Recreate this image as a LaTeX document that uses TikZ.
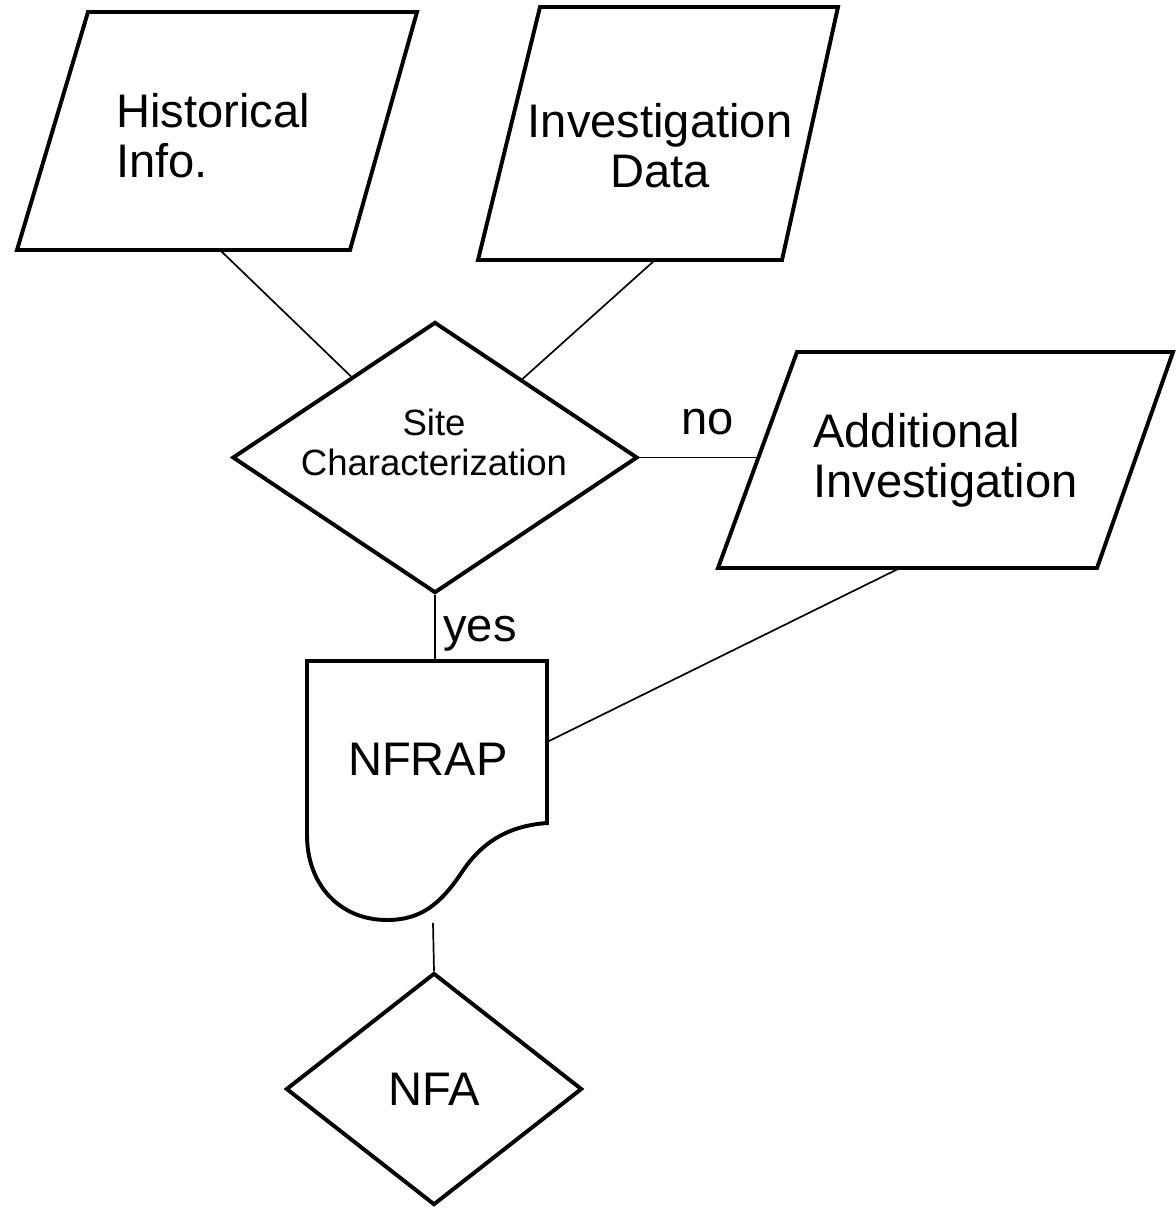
\documentclass[tikz,border=0pt]{standalone}
\usepackage{fontspec}
\setmainfont{Liberation Sans}
\usetikzlibrary{shapes.geometric}

\begin{document}
\begin{tikzpicture}[
      x=0.025cm, y=-0.025cm,
      font=\fontsize{33.5}{35.5}\selectfont,
      % Reusable styles
      inbox/.style={draw, line width=2.8pt, line join=miter},
      decide/.style={
        diamond,
        draw,
        line width=2.8pt,
        inner sep=0pt
      },
      txt/.style={inner sep=0pt},
      small/.style={font=\fontsize{26}{28.5}\selectfont},
      link/.style={line width=1.2pt}
    ]
    \useasboundingbox (0,0) rectangle (1176,1210);

    % Outlines
    \draw[inbox] (88,12) -- (417,12) -- (350,250) -- (17,250) -- cycle;
    \draw[inbox] (540,7) -- (838,7) -- (782,260) -- (478,260) -- cycle;
    \draw[inbox] (797,352) -- (1173,352) -- (1097,568) -- (718,568) -- cycle;
    \draw[inbox] (307,661) -- (547,661) -- (547,823)
      .. controls (505,826) and (480,845) .. (462,872)
      .. controls (440,905) and (420,920) .. (387,920)
      .. controls (340,920) and (307,885) .. (307,835) -- cycle;

    % Nodes
    \node[decide, minimum width=10.125cm, minimum height=6.775cm] (site) at (435,457.5) {};
    \node[decide, minimum width=7.4cm, minimum height=5.8cm] (nfa) at (434,1089) {NFA};

    \node[txt, anchor=north west, align=left] (hist) at (116,93) {Historical\\Info.};
    \node[txt, anchor=north, align=center] (inv) at (660,103) {Investigation\\Data};
    \node[txt, anchor=north west, align=left] (addl) at (813,413) {Additional\\Investigation};
    \node[txt, small, anchor=north, align=center] (sitetxt) at (434,409) {Site\\Characterization};
    \node[txt, anchor=base] (nfrap) at (428,775) {NFRAP};
    \node[txt, anchor=base west] (no) at (681,434) {no};
    \node[txt, anchor=base west] (yes) at (443,641) {yes};

    % Connector ends on the outlines
    \coordinate (histout) at (220,250);
    \coordinate (invout) at (655,260);
    \coordinate (addlin) at (759,457.5);
    \coordinate (addlout) at (900,568);
    \coordinate (nfrapin) at (547,742);
    \coordinate (nfraptop) at (435,661);
    \coordinate (nfrapout) at (433,923);

    % Edges
    \draw[link] (histout) -- (site);
    \draw[link] (invout) -- (site);
    \draw[link] (site.east) -- (addlin);
    \draw[link] (site.south) -- (nfraptop);
    \draw[link] (addlout) -- (nfrapin);
    \draw[link] (nfrapout) -- (nfa.north);
  \end{tikzpicture}
\end{document}
